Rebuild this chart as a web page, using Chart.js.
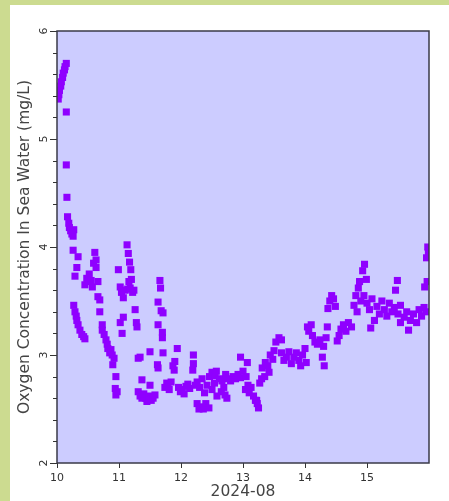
<!DOCTYPE html>
<html lang="en">
<head>
  <meta charset="UTF-8" />
  <title>Oxygen Concentration</title>
  <script src="https://cdn.jsdelivr.net/npm/chart.js"></script>
  <style>
    html, body { margin: 0; padding: 0; }
    body { background: #ccdb90; width: 449px; height: 501px; overflow: hidden; position: relative; }
    #panel { position: absolute; left: 10px; top: 5px; width: 439px; height: 496px; background: #fff; }
    #chart { display: block; }
  </style>
</head>
<body>
  <div id="panel">
    <canvas id="chart" width="439" height="496"></canvas>
  </div>

<script>
// time in days of August 2024, oxygen in mg/L
const days = [
  10.02, 10.03, 10.04, 10.06, 10.07, 10.09, 10.10, 10.12, 10.13, 10.15,
  10.15, 10.15, 10.16, 10.17, 10.19, 10.20, 10.22, 10.24, 10.26, 10.27,
  10.26, 10.29, 10.32, 10.34, 10.27, 10.29, 10.31, 10.32, 10.34, 10.37,
  10.40, 10.43, 10.45, 10.45, 10.48, 10.50, 10.52, 10.55, 10.57, 10.59,
  10.61, 10.63, 10.63, 10.66, 10.66, 10.69, 10.69, 10.73, 10.73, 10.76,
  10.79, 10.81, 10.82, 10.85, 10.87, 10.89, 10.90, 10.92, 10.95, 10.94,
  10.95, 10.97, 10.99, 11.02, 11.04, 11.07, 11.10, 11.14, 11.18, 11.22,
  11.24, 11.07, 11.02, 11.05, 11.13, 11.15, 11.17, 11.19, 11.20, 11.16,
  11.26, 11.28, 11.29, 11.31, 11.34, 11.37, 11.50, 11.31, 11.34, 11.37,
  11.40, 11.43, 11.45, 11.48, 11.52, 11.55, 11.58, 11.50, 11.62, 11.63,
  11.66, 11.67, 11.63, 11.68, 11.71, 11.63, 11.70, 11.70, 11.71, 11.74,
  11.77, 11.79, 11.81, 11.84, 11.87, 11.89, 11.90, 11.94, 11.96, 11.99,
  12.02, 12.05, 12.08, 12.11, 12.14, 12.19, 12.20, 12.20, 12.23, 12.26,
  12.29, 12.32, 12.36, 12.40, 12.45, 12.26, 12.30, 12.34, 12.38, 12.42,
  12.46, 12.50, 12.54, 12.58, 12.50, 12.55, 12.57, 12.62, 12.66, 12.71,
  12.74, 12.65, 12.69, 12.72, 12.76, 12.80, 12.84, 12.88, 12.92, 12.96,
  12.96, 13.00, 13.05, 13.07, 13.04, 13.08, 13.10, 13.13, 13.17, 13.20,
  13.22, 13.23, 13.25, 13.27, 13.30, 13.31, 13.35, 13.36, 13.40, 13.42,
  13.44, 13.48, 13.50, 13.53, 13.58, 13.62, 13.62, 13.66, 13.70, 13.74,
  13.78, 13.82, 13.86, 13.90, 13.93, 13.96, 14.00, 14.02, 14.04, 14.06,
  14.10, 14.12, 14.16, 14.20, 14.24, 14.28, 14.30, 14.31, 14.34, 14.36,
  14.37, 14.40, 14.43, 14.46, 14.49, 14.52, 14.55, 14.58, 14.62, 14.66,
  14.70, 14.75, 14.79, 14.82, 14.86, 14.88, 14.93, 14.96, 14.99, 14.84,
  14.90, 14.95, 15.00, 15.04, 15.08, 15.06, 15.12, 15.16, 15.20, 15.24,
  15.28, 15.32, 15.36, 15.40, 15.44, 15.46, 15.49, 15.50, 15.54, 15.54,
  15.60, 15.64, 15.67, 15.70, 15.75, 15.80, 15.84, 15.88, 15.92, 15.93,
  15.95, 15.97, 15.96, 15.98, 15.99
];
const oxygen = [
  5.37, 5.41, 5.45, 5.49, 5.53, 5.57, 5.61, 5.64, 5.67, 5.70,
  5.25, 4.76, 4.46, 4.28, 4.22, 4.18, 4.15, 4.12, 4.10, 4.16,
  3.97, 3.73, 3.81, 3.91, 3.46, 3.40, 3.36, 3.32, 3.28, 3.23,
  3.19, 3.17, 3.15, 3.65, 3.71, 3.68, 3.75, 3.69, 3.63, 3.85,
  3.95, 3.88, 3.81, 3.68, 3.54, 3.51, 3.40, 3.28, 3.23, 3.19,
  3.14, 3.10, 3.06, 3.02, 3.05, 3.00, 2.91, 2.97, 2.80, 2.69,
  2.63, 2.66, 3.79, 3.63, 3.58, 3.53, 3.60, 3.61, 3.62, 3.58,
  3.60, 3.35, 3.30, 3.20, 4.02, 3.94, 3.86, 3.79, 3.70, 3.68,
  3.42, 3.30, 3.26, 2.97, 2.98, 2.77, 2.72, 2.66, 2.62, 2.60,
  2.64, 2.60, 2.57, 2.62, 2.58, 2.60, 2.63, 3.03, 2.91, 2.88,
  3.69, 3.62, 3.49, 3.41, 3.39, 3.28, 3.21, 3.16, 3.02, 2.70,
  2.74, 2.72, 2.68, 2.75, 2.90, 2.86, 2.94, 3.06, 2.70, 2.66,
  2.68, 2.64, 2.71, 2.73, 2.69, 2.86, 2.92, 3.00, 2.72, 2.55,
  2.50, 2.52, 2.50, 2.55, 2.51, 2.75, 2.70, 2.78, 2.65, 2.72,
  2.80, 2.68, 2.74, 2.62, 2.84, 2.81, 2.85, 2.78, 2.76, 2.63,
  2.60, 2.66, 2.70, 2.82, 2.78, 2.76, 2.80, 2.78, 2.82, 2.79,
  2.98, 2.85, 2.80, 2.93, 2.68, 2.72, 2.65, 2.70, 2.62, 2.58,
  2.58, 2.55, 2.51, 2.74, 2.78, 2.88, 2.80, 2.93, 2.90, 2.84,
  3.00, 2.96, 3.04, 3.12, 3.16, 3.14, 3.02, 2.95, 2.98, 3.03,
  2.92, 2.98, 3.02, 2.95, 2.90, 3.00, 3.06, 2.93, 3.26, 3.22,
  3.28, 3.18, 3.12, 3.10, 3.14, 2.98, 3.08, 2.90, 3.16, 3.26,
  3.43, 3.50, 3.55, 3.52, 3.45, 3.13, 3.18, 3.24, 3.28, 3.22,
  3.30, 3.26, 3.46, 3.55, 3.62, 3.68, 3.78, 3.84, 3.70, 3.40,
  3.50, 3.55, 3.48, 3.42, 3.52, 3.25, 3.32, 3.45, 3.38, 3.50,
  3.42, 3.36, 3.48, 3.40, 3.44, 3.60, 3.69, 3.38, 3.46, 3.30,
  3.35, 3.40, 3.23, 3.32, 3.38, 3.30, 3.42, 3.36, 3.44, 3.63,
  3.40, 3.68, 3.90, 4.00, 3.95
];
const xTicks = [10, 11, 12, 13, 14, 15];
const yTicks = [2, 3, 4, 5, 6];

const points = days.map((d, i) => ({ x: d, y: oxygen[i] }));

const plotFrame = {
  id: 'plotFrame',
  beforeDraw(chart) {
    const { ctx, chartArea: a } = chart;
    ctx.save();
    ctx.fillStyle = '#ccccff';
    ctx.fillRect(a.left, a.top, a.right - a.left, a.bottom - a.top);
    ctx.restore();
  },
  afterDraw(chart) {
    const { ctx, chartArea: a, scales } = chart;
    ctx.save();
    ctx.strokeStyle = '#3a3a48';
    ctx.lineWidth = 1.5;
    ctx.strokeRect(a.left, a.top, a.right - a.left, a.bottom - a.top);
    // minor ticks on y
    ctx.lineWidth = 1;
    ctx.strokeStyle = '#333';
    for (let i = 1; i < 20; i++) {
      if (i % 5 === 0) continue;
      const y = Math.round(scales.y.getPixelForValue(2 + i * 0.2)) + 0.5;
      ctx.beginPath();
      ctx.moveTo(a.left - 4, y);
      ctx.lineTo(a.left, y);
      ctx.stroke();
    }
    ctx.restore();
  }
};

new Chart(document.getElementById('chart'), {
  type: 'scatter',
  data: {
    datasets: [{
      data: points,
      pointStyle: 'rect',
      pointRadius: 5,
      pointHoverRadius: 5,
      backgroundColor: '#8f00ff',
      borderWidth: 0
    }]
  },
  options: {
    responsive: false,
    animation: false,
    layout: { padding: { top: 26, right: 20, left: 0, bottom: 0 } },
    plugins: { legend: { display: false }, tooltip: { enabled: false } },
    scales: {
      x: {
        type: 'linear',
        min: 10,
        max: 16,
        afterFit: s => { s.height = 38; },
        afterBuildTicks: s => { s.ticks = xTicks.map(v => ({ value: v })); },
        grid: { drawOnChartArea: false, tickLength: 5, color: '#333' },
        border: { display: false },
        ticks: { color: '#333', font: { family: 'DejaVu Sans', size: 11 }, padding: 4, maxRotation: 0 },
        title: { display: true, text: '2024-08', color: '#444', font: { family: 'DejaVu Sans', size: 15.5 }, padding: { top: 0, bottom: 0 } }
      },
      y: {
        min: 2,
        max: 6,
        afterFit: s => { s.width = 47; },
        afterBuildTicks: s => { s.ticks = yTicks.map(v => ({ value: v })); },
        grid: { drawOnChartArea: false, tickLength: 7, color: '#333' },
        border: { display: false },
        ticks: { color: '#333', font: { family: 'DejaVu Sans', size: 11 }, padding: 2, minRotation: 90, maxRotation: 90, crossAlign: 'center' },
        title: { display: true, text: 'Oxygen Concentration In Sea Water (mg/L)', color: '#444', font: { family: 'DejaVu Sans', size: 15.5 }, padding: { top: 6, bottom: 0 } }
      }
    }
  },
  plugins: [plotFrame]
});
</script>
</body>
</html>
